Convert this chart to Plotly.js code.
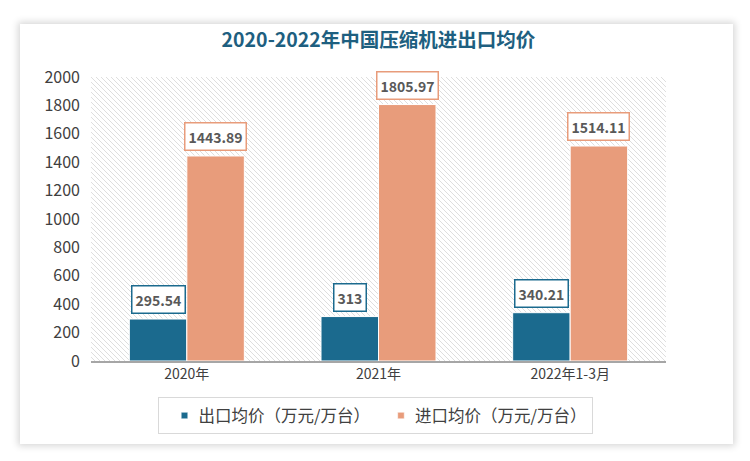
<!DOCTYPE html>
<html><head><meta charset="utf-8">
<script src="https://cdn.plot.ly/plotly-3.0.1.min.js"></script>
<style>
html,body{margin:0;padding:0;background:#fff;width:750px;height:461px;overflow:hidden;}
#card{position:absolute;left:20px;top:24px;width:713px;height:420px;background:#fff;box-shadow:0 0 7px 2px rgba(0,0,0,0.16);}
#chart{position:absolute;left:0;top:0;width:750px;height:461px;}
</style></head>
<body>
<div id="card"></div>
<div id="chart"></div>
<script>
const categories = ['2020年', '2021年', '2022年1-3月'];
const exportPrice = [295.54, 313, 340.21];
const importPrice = [1443.89, 1805.97, 1514.11];
const seriesNames = ['出口均价（万元/万台）', '进口均价（万元/万台）'];
const colors = ['#1b6a8e', '#e89c7b'];

const font = '"Noto Sans CJK SC", "Noto Sans", sans-serif';

const hatch = 'data:image/svg+xml;utf8,' + encodeURIComponent(
 '<svg xmlns="http://www.w3.org/2000/svg" width="575" height="284">' +
 '<defs><pattern id="p" patternUnits="userSpaceOnUse" width="5" height="5">' +
 '<path d="M0,0 L5,5 M-1,4 L1,6 M4,-1 L6,1" stroke="#dedede" stroke-width="1"/>' +
 '</pattern></defs><rect width="575" height="284" fill="url(#p)"/></svg>');

const traces = [exportPrice, importPrice].map((vals, k) => ({
  type: 'bar', name: seriesNames[k], x: categories, y: vals,
  marker: {color: colors[k], line: {color: '#ffffff', width: 1}},
  hoverinfo: 'none'
}));

const annotations = [];
[exportPrice, importPrice].forEach((vals, k) => {
  vals.forEach((v, i) => {
    annotations.push({
      x: i + (k === 0 ? -0.15 : 0.15), y: v, xref: 'x', yref: 'y',
      text: String(v), showarrow: false, yanchor: 'bottom', yshift: 5,
      font: {family: font, size: 14, color: '#595959', weight: 'bold'},
      bgcolor: '#ffffff', bordercolor: colors[k], borderwidth: 1.5, borderpad: 3
    });
  });
});

const layout = {
  width: 750, height: 461,
  margin: {l: 91, r: 84, t: 77, b: 100},
  paper_bgcolor: 'rgba(0,0,0,0)', plot_bgcolor: '#ffffff',
  title: {text: '2020-2022年中国压缩机进出口均价', x: 0.5, xref: 'paper', xanchor: 'center', y: 0.913, yanchor: 'middle',
          font: {family: font, size: 19.5, color: '#1e5f80', weight: 'bold'}},
  barmode: 'group', bargap: 0.4, bargroupgap: 0,
  xaxis: {type: 'category', showline: true, linecolor: '#a6a6a6', linewidth: 1.5, ticks: '',
          tickfont: {family: font, size: 14, color: '#404040'}, fixedrange: true},
  yaxis: {range: [0, 2000], dtick: 200, showgrid: false, zeroline: false, showline: false, ticks: '',
          ticklabelstandoff: 10, tickfont: {family: font, size: 16, color: '#404040'}, fixedrange: true},
  legend: {orientation: 'h', x: 0.5, xanchor: 'center', xref: 'container', y: 0.098, yref: 'container', yanchor: 'middle',
           bordercolor: '#d9d9d9', borderwidth: 1, font: {family: font, size: 16.5, color: '#404040'},
           itemwidth: 30},
  showlegend: true,
  annotations: annotations,
  images: [{source: hatch, xref: 'paper', yref: 'paper', x: 0, y: 1, sizex: 1, sizey: 1,
            sizing: 'stretch', xanchor: 'left', yanchor: 'top', layer: 'below'}]
};

Plotly.newPlot('chart', traces, layout, {staticPlot: true, displayModeBar: false}).then(gd => {
  gd.querySelectorAll('.legendpoints path').forEach(p => {
    p.setAttribute('transform', 'translate(26,0) scale(0.55)');
  });
});
</script>
</body></html>
